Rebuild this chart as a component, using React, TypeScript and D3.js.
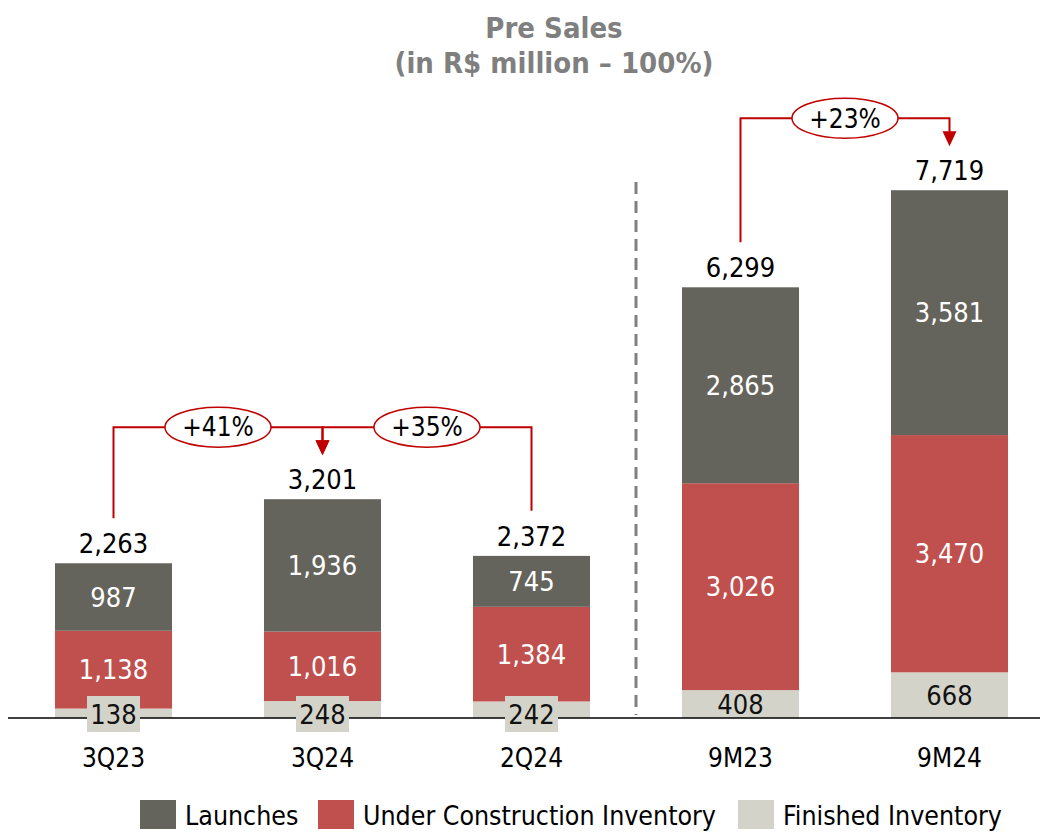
import React from 'react';
import * as d3 from 'd3';

const categories = ['3Q23', '3Q24', '2Q24', '9M23', '9M24'];
const launches = [987, 1936, 745, 2865, 3581];
const underConstruction = [1138, 1016, 1384, 3026, 3470];
const finished = [138, 248, 242, 408, 668];
const totals = [2263, 3201, 2372, 6299, 7719];

// growth brackets: from -> to, label sits in the ellipse halfway
const comparisons = [
    { from: '3Q23', to: '3Q24', label: '+41%' },
    { from: '2Q24', to: '3Q24', label: '+35%' },
    { from: '9M23', to: '9M24', label: '+23%' },
];

const seriesKeys = ['finished', 'underConstruction', 'launches'];
const seriesNames = ['Launches', 'Under Construction Inventory', 'Finished Inventory'];
const colors = {
    launches: '#65645C',
    underConstruction: '#C0504D',
    finished: '#D3D3CA',
};
const legendKeys = ['launches', 'underConstruction', 'finished'];

const W = 1045;
const H = 833;
const FONT = "Tahoma, 'DejaVu Sans Condensed', 'DejaVu Sans', sans-serif";
const RED = '#C00000';

const App = () => {
    const rows = categories.map((c, i) => ({
        cat: c,
        finished: finished[i],
        underConstruction: underConstruction[i],
        launches: launches[i],
    }));
    const stacked = d3.stack().keys(seriesKeys)(rows as any);

    const x = d3.scaleBand().domain(categories).range([9, 1054]).paddingInner(0.44).paddingOuter(0.22);
    const y = d3.scaleLinear().domain([0, 8000]).range([718, 171]);
    const bw = x.bandwidth();
    const cx = (c) => x(c) + bw / 2;
    const totalOf = (c) => totals[categories.indexOf(c)];

    const sepX = (cx('2Q24') + cx('9M23')) / 2;

    // bracket level per target bar
    const bracketY = (to, from) => y(Math.max(totalOf(to), totalOf(from))) - 72;

    return (
        <svg width={W} height={H} style={{ position: 'absolute', left: 0, top: 0, fontFamily: FONT, fontStretch: 'condensed' }}>
            <text x={554} y={38} textAnchor="middle" fontSize={29} fontWeight="bold" fill="#7F7F7F">Pre Sales</text>
            <text x={554} y={73} textAnchor="middle" fontSize={29} fontWeight="bold" fill="#7F7F7F">(in R$ million – 100%)</text>

            <line x1={sepX} x2={sepX} y1={182} y2={715} stroke="#808080" strokeWidth={3} strokeDasharray="12,7" />

            {stacked.map(s => s.map((d, i) => (
                <rect key={s.key + i} x={x(categories[i])} width={bw} y={y(d[1])} height={y(d[0]) - y(d[1])} fill={colors[s.key]} />
            )))}

            <line x1={8} x2={1040} y1={y(0)} y2={y(0)} stroke="#000" strokeWidth={1.5} />

            {stacked.map(s => s.map((d, i) => {
                const h = y(d[0]) - y(d[1]);
                const val = d[1] - d[0];
                const txt = d3.format(',')(val);
                const small = h < 25;
                const my = small ? y(0) - 4 : (y(d[0]) + y(d[1])) / 2;
                const c = cx(categories[i]);
                const tw = txt.length * 14 + 11;
                return (
                    <g key={'l' + s.key + i}>
                        {small && <rect x={c - tw / 2} y={my - 18} width={tw} height={36} fill={colors.finished} />}
                        <text x={c} y={my} dy="0.36em" textAnchor="middle" fontSize={27}
                            fill={s.key === 'finished' ? '#111' : '#fff'}>{txt}</text>
                    </g>
                );
            }))}

            {categories.map((c, i) => (
                <text key={'t' + c} x={cx(c)} y={y(totals[i]) - 10} textAnchor="middle" fontSize={27} fill="#000">
                    {d3.format(',')(totals[i])}
                </text>
            ))}

            {categories.map(c => (
                <text key={'c' + c} x={cx(c)} y={767} textAnchor="middle" fontSize={26} fill="#000">{c}</text>
            ))}

            {comparisons.map(cmp => {
                const by = bracketY(cmp.to, cmp.from);
                const fx = cx(cmp.from);
                const tx = cx(cmp.to);
                const mx = (fx + tx) / 2;
                return (
                    <g key={cmp.label}>
                        <path d={`M${fx},${y(totalOf(cmp.from)) - 45}V${by}H${tx}V${y(totalOf(cmp.to)) - 58}`}
                            fill="none" stroke={RED} strokeWidth={2} />
                        <path d={`M${tx - 7},${y(totalOf(cmp.to)) - 59}L${tx + 7},${y(totalOf(cmp.to)) - 59}L${tx},${y(totalOf(cmp.to)) - 44}Z`} fill={RED} />
                        <ellipse cx={mx} cy={by} rx={53} ry={20} fill="#fff" stroke={RED} strokeWidth={1.5} />
                        <text x={mx} y={by} dy="0.36em" textAnchor="middle" fontSize={26} fill="#000">{cmp.label}</text>
                    </g>
                );
            })}

            {(() => {
                let lx = 140;
                return legendKeys.map((k, i) => {
                    const g = (
                        <g key={'lg' + k}>
                            <rect x={lx} y={800} width={36} height={29} fill={colors[k]} />
                            <text x={lx + 45} y={815} dy="0.36em" fontSize={26.5} fill="#000">{seriesNames[i]}</text>
                        </g>
                    );
                    lx += [178, 420, 0][i];
                    return g;
                });
            })()}
        </svg>
    );
};

export default App;
